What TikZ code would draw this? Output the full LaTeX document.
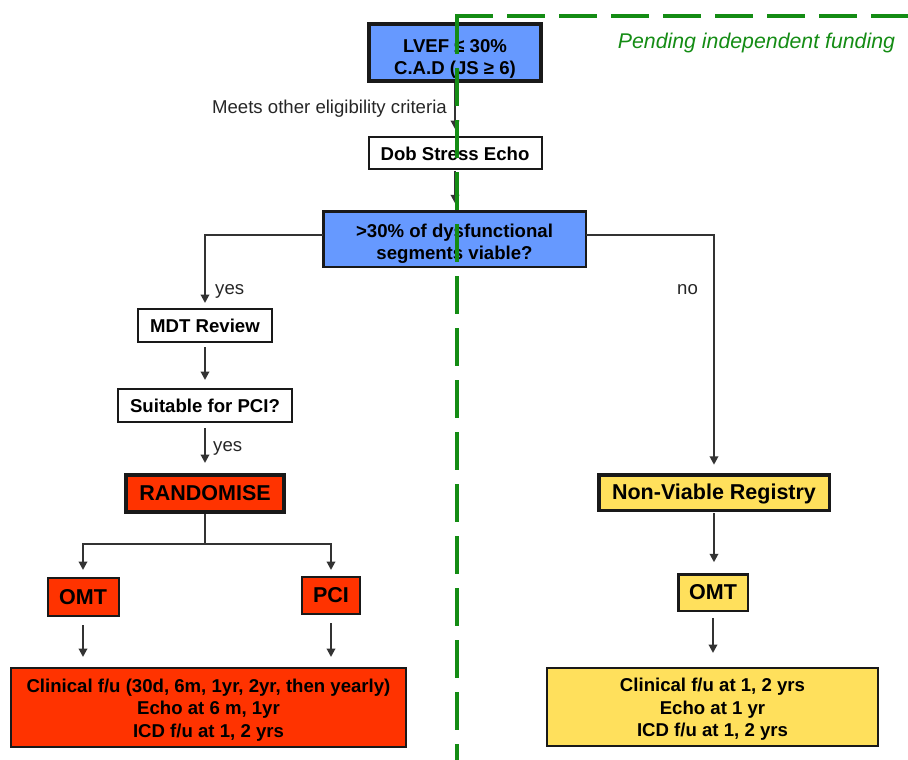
\documentclass[tikz,border=0pt]{standalone}
\usepackage{fontspec}
\setmainfont{Liberation Sans}
\usetikzlibrary{arrows.meta}
\definecolor{boxblue}{RGB}{102,153,255}
\definecolor{boxred}{RGB}{255,51,0}
\definecolor{boxyellow}{RGB}{255,224,92}
\definecolor{fundgreen}{RGB}{20,140,20}
\definecolor{linegray}{RGB}{51,51,51}
\begin{document}
\begin{tikzpicture}[x=1pt,y=-1pt,
  box/.style={draw=black!90, line width=2pt, inner sep=0pt, outer sep=0pt, align=center,
    font=\fontsize{18.6}{22}\selectfont\bfseries, text=black},
  bigbox/.style={box, font=\fontsize{21.5}{24}\selectfont\bfseries},
  lbl/.style={inner sep=0pt, font=\fontsize{18.6}{21.5}\selectfont, text=black!85},
  conn/.style={draw=linegray, line width=2pt, -{Triangle[length=8.5pt,width=8.5pt]}},
  plainline/.style={draw=linegray, line width=2pt},
  fund/.style={draw=fundgreen, line width=4pt, dash pattern=on 38pt off 14pt}
]
\useasboundingbox (0,0) rectangle (908,760);

% boxes
\node[box, fill=boxblue, line width=4pt, minimum width=172pt, minimum height=57pt] (lvef) at (455,52.5) {\rule{0pt}{25pt}LVEF ≤ 30\%\\C.A.D (JS ≥ 6)};
\node[box, fill=white, minimum width=173pt, minimum height=32pt] (dob) at (455,153) {\rule{0pt}{15pt}Dob Stress Echo};
\node[box, fill=boxblue, line width=2.5pt, minimum width=262.5pt, minimum height=55.5pt] (viable) at (454.5,239) {\rule{0pt}{22.5pt}>30\% of dysfunctional\\segments viable?};
\node[box, fill=white, minimum width=134pt, minimum height=33pt] (mdt) at (205,325.5) {MDT Review};
\node[box, fill=white, minimum width=174pt, minimum height=33pt] (suit) at (205,405.5) {Suitable for PCI?};
\node[bigbox, fill=boxred, line width=4pt, minimum width=158pt, minimum height=37pt] (rand) at (205,493.5) {RANDOMISE};
\node[bigbox, fill=boxred, minimum width=71pt, minimum height=38pt] (omtL) at (83,597) {OMT};
\node[bigbox, fill=boxred, minimum width=58pt, minimum height=37pt] (pci) at (331,595.5) {PCI};
\node[box, fill=boxred, font=\fontsize{18.6}{22.5}\selectfont\bfseries, minimum width=395pt, minimum height=79pt] (clinL) at (208.5,707.5) {\rule{0pt}{18pt}Clinical f/u (30d, 6m, 1yr, 2yr, then yearly)\\Echo at 6 m, 1yr\\ICD f/u at 1, 2 yrs};
\node[bigbox, fill=boxyellow, line width=3.5pt, minimum width=230.5pt, minimum height=35.5pt] (nvr) at (714,492.5) {\rule{0pt}{19pt}Non-Viable Registry};
\node[bigbox, fill=boxyellow, line width=2.5pt, minimum width=69.5pt, minimum height=36.5pt] (omtR) at (713,592.5) {OMT};
\node[box, fill=boxyellow, font=\fontsize{18.6}{22.5}\selectfont\bfseries, minimum width=331pt, minimum height=78pt] (clinR) at (712.5,707) {\rule{0pt}{18pt}Clinical f/u at 1, 2 yrs\\Echo at 1 yr\\ICD f/u at 1, 2 yrs};

% labels
\node[lbl, anchor=east] (meets) at (447,109) {Meets other eligibility criteria};
\node[lbl, anchor=west] (yes1) at (215,291) {yes};
\node[lbl, anchor=west] (no) at (677,289.5) {no};
\node[lbl, anchor=west] (yes2) at (213,448) {yes};
\node[inner sep=0pt, text=fundgreen, font=\fontsize{21.3}{24}\selectfont\itshape] (pend) at (756.5,43) {Pending independent funding};

% connectors
\draw[conn, shorten <=2pt, shorten >=8pt] (lvef) -- (dob);
\draw[conn, shorten <=2pt, shorten >=8pt] (dob) -- (viable.north -| dob);
\draw[conn, shorten >=6pt] ([yshift=4pt]viable.west) -| (mdt.north);
\draw[conn, shorten >=10pt] ([yshift=4pt]viable.east) -| (nvr.north);
\draw[conn, shorten <=5pt, shorten >=9pt] (mdt) -- (suit);
\draw[conn, shorten <=6pt, shorten >=12pt] (suit) -- (rand);
\coordinate (split) at (205,544);
\draw[plainline, shorten <=2pt] (rand.south) -- (split);
\draw[conn, shorten >=8pt] (split) -| (omtL.north);
\draw[conn, shorten >=7pt] (split) -| (pci.north);
\draw[conn, shorten <=9pt, shorten >=11pt] (omtL.south) -- (omtL.south |- clinL.north);
\draw[conn, shorten <=9pt, shorten >=11pt] (pci.south) -- (pci.south |- clinL.north);
\draw[conn, shorten <=3pt, shorten >=12pt] (nvr.south) -- (nvr.south |- omtR.north);
\draw[conn, shorten <=7pt, shorten >=15pt] (omtR.south) -- (omtR.south |- clinR.north);

% funding boundary
\coordinate (fundC) at (457,16);
\coordinate (fundCh) at (455,16);
\coordinate (fundR) at (908,16);
\coordinate (fundB) at (457,760);
\draw[fund] (fundC) -- (fundB);
\draw[fund] (fundCh) -- (fundR);
\end{tikzpicture}
\end{document}
